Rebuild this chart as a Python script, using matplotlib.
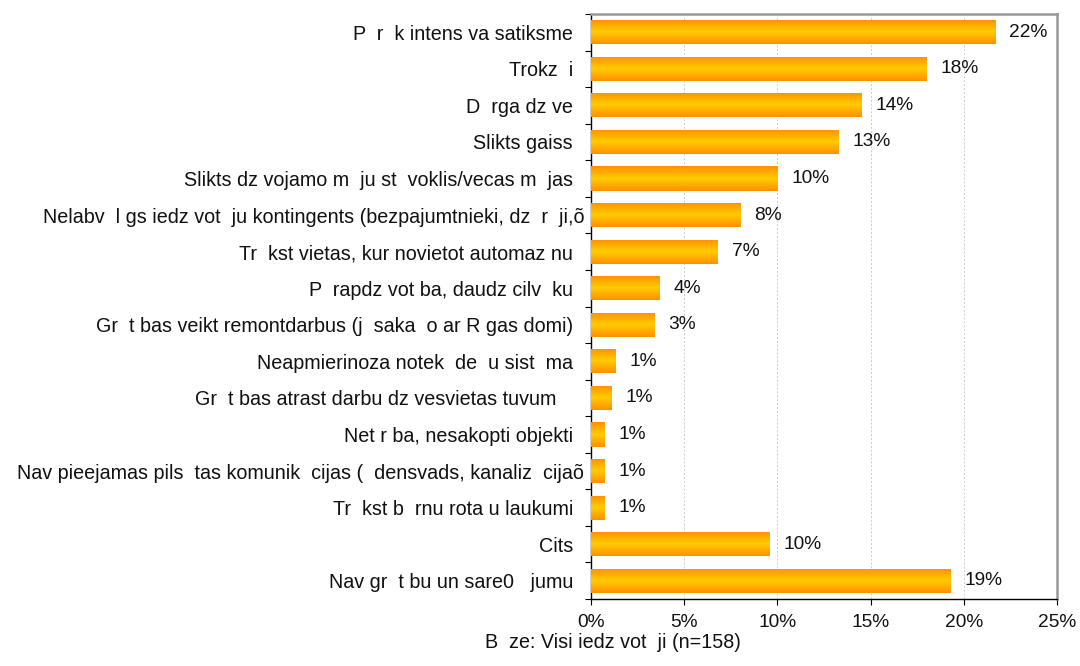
import matplotlib.pyplot as plt
import numpy as np
from matplotlib.colors import LinearSegmentedColormap

plt.rcParams['font.family'] = ['Liberation Sans', 'DejaVu Sans']

# Kategorijas (no augšas uz leju) un vērtības procentos
labels = [
    'P  r  k intens va satiksme  ',
    'Trokz  i  ',
    'D  rga dz ve  ',
    'Slikts gaiss  ',
    'Slikts dz vojamo m  ju st  voklis/vecas m  jas  ',
    'Nelabv  l gs iedz vot  ju kontingents (bezpajumtnieki, dz  r  ji,õ',
    'Tr  kst vietas, kur novietot automaz nu  ',
    'P  rapdz vot ba, daudz cilv  ku  ',
    'Gr  t bas veikt remontdarbus (j  saka  o ar R gas domi)  ',
    'Neapmierinoza notek  de  u sist  ma  ',
    'Gr  t bas atrast darbu dz vesvietas tuvum     ',
    'Net r ba, nesakopti objekti  ',
    'Nav pieejamas pils  tas komunik  cijas (  densvads, kanaliz  cijaõ',
    'Tr  kst b  rnu rota u laukumi  ',
    'Cits  ',
    'Nav gr  t bu un sare0   jumu  ',
]
values = [21.7, 18.0, 14.5, 13.3, 10.0, 8.0, 6.8, 3.65, 3.4, 1.3, 1.1, 0.7, 0.7, 0.7, 9.6, 19.3]
value_labels = ['22%', '18%', '14%', '13%', '10%', '8%', '7%', '4%', '3%',
                '1%', '1%', '1%', '1%', '1%', '10%', '19%']
xticks = [0, 5, 10, 15, 20, 25]
xtick_labels = ['0%', '5%', '10%', '15%', '20%', '25%']

fs = 14.2

fig = plt.figure(figsize=(10.8, 6.66), dpi=100)
ax = fig.add_axes([591 / 1080, 1 - 599 / 666, 466 / 1080, 585 / 666])

y = np.arange(len(labels))
bars = ax.barh(y, values, height=0.66, color='#FF9900', zorder=2)
ax.set_ylim(len(labels) - 0.5, -0.5)
ax.set_xlim(0, 25)

# Gradients joslām: oranžas malas, dzeltens vidus
cmap = LinearSegmentedColormap.from_list('bar', ['#FF9000', '#FFCC00', '#FF9000'])
grad = np.linspace(0, 1, 64).reshape(-1, 1)
for b in bars:
    x0, y0 = b.get_x(), b.get_y()
    im = ax.imshow(grad, extent=[x0, x0 + b.get_width(), y0 + b.get_height(), y0],
                   aspect='auto', cmap=cmap, zorder=3, interpolation='bilinear')
    im.set_clip_path(b)

for yi, v, lab in zip(y, values, value_labels):
    ax.annotate(lab, (v, yi), xytext=(14, 0), textcoords='offset pixels',
                va='center', ha='left', fontsize=13.8, color='#111111')

ax.set_yticks(y)
ax.set_yticklabels(labels, fontsize=fs, color='#111111')
ax.set_yticks(np.arange(-0.5, len(labels)), minor=True)
ax.tick_params(axis='y', which='major', length=0, pad=5)
ax.tick_params(axis='y', which='minor', length=4, width=0.8, direction='out')

ax.set_xticks(xticks)
ax.set_xticklabels(xtick_labels, fontsize=13.8, color='#111111')
ax.tick_params(axis='x', length=4, width=0.8, direction='out', pad=7)

ax.grid(axis='x', color='#CCCCCC', linestyle=(0, (2, 2)), linewidth=0.7, zorder=0)
ax.set_axisbelow(True)

for side in ['left', 'bottom']:
    ax.spines[side].set_color('black')
    ax.spines[side].set_linewidth(1)
for side in ['top', 'right']:
    ax.spines[side].set_color('#999999')
    ax.spines[side].set_linewidth(1.8)

fig.text(613 / 1080, 1 - 643 / 666, 'B  ze: Visi iedz vot  ji (n=158)',
         ha='center', va='center', fontsize=fs, color='#111111')

fig.savefig('out.png', dpi=100)
